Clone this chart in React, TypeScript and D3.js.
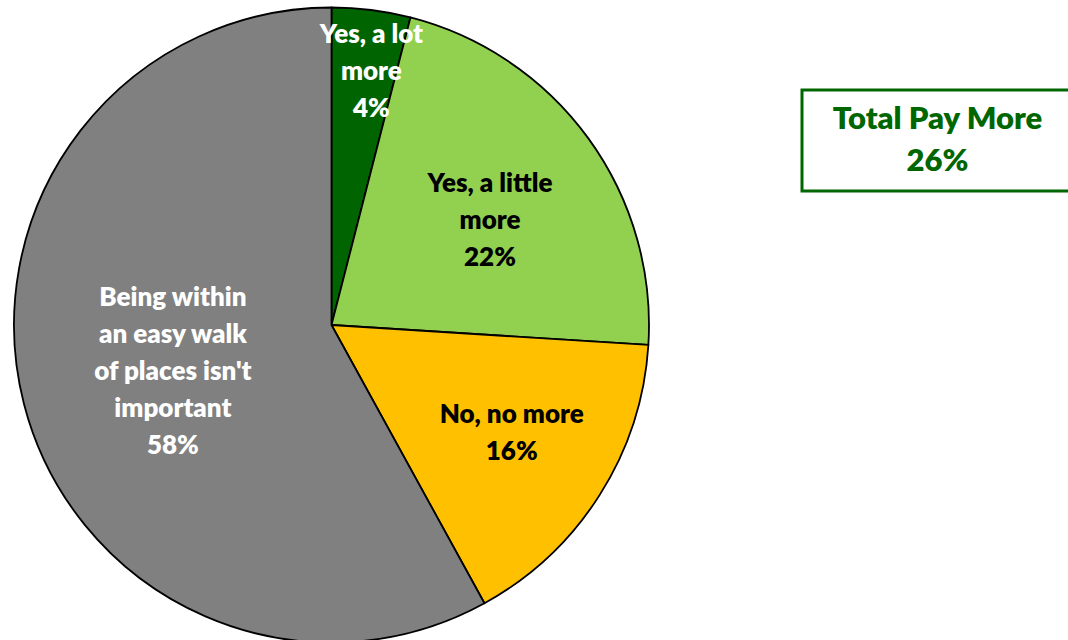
import React from "react";
import * as d3 from "d3";

const categories = ["Yes, a lot more", "Yes, a little more", "No, no more", "Being within an easy walk of places isn't important"];
const values = [4, 22, 16, 58];
const labelLines = [
  ["Yes, a lot", "more", "4%"],
  ["Yes, a little", "more", "22%"],
  ["No, no more", "16%"],
  ["Being within", "an easy walk", "of places isn't", "important", "58%"],
];
const colors = ["#006400", "#92D050", "#FFC000", "#808080"];
const labelColors = ["#FFFFFF", "#000000", "#000000", "#FFFFFF"];
const labelRadiusFrac = [0.81, 0.6, 0.66, 0.52];
const labelAngleShift = [0.03, 0.04, -0.03, -0.03];
const totalTitle = "Total Pay More";
const totalValue = "26%";

const W = 1068;
const H = 640;
const cx = 331.5;
const cy = 325;
const R = 317.5;
const FONT = "Lato, 'Open Sans', sans-serif";

export default function App() {
  const pie = d3.pie<number>().sort(null).value((d) => d)(values);
  const arc = d3.arc<d3.PieArcDatum<number>>().innerRadius(0).outerRadius(R);
  const lineH = 37;
  return (
    <svg width={W} height={H} style={{ position: "absolute", left: 0, top: 0 }} fontFamily={FONT}>
      <rect width={W} height={H} fill="#fff" />
      <g transform={`translate(${cx},${cy})`}>
        {pie.map((p, i) => (
          <path key={categories[i]} d={arc(p) || ""} fill={colors[i]} stroke="#000" strokeWidth={1.8} strokeLinejoin="round" />
        ))}
        {pie.map((p, i) => {
          const a = (p.startAngle + p.endAngle) / 2 + labelAngleShift[i];
          const r = R * labelRadiusFrac[i];
          const x = Math.sin(a) * r;
          const y = -Math.cos(a) * r;
          const lines = labelLines[i];
          const y0 = y - ((lines.length - 1) * lineH) / 2;
          return (
            <text key={"l" + i} x={x} textAnchor="middle" fontSize={26} fontWeight={800} fill={labelColors[i]}>
              {lines.map((ln, j) => (
                <tspan key={j} x={x} y={y0 + j * lineH} dy="0.36em">
                  {ln}
                </tspan>
              ))}
            </text>
          );
        })}
      </g>
      <rect x={802} y={90} width={280} height={101} fill="#fff" stroke="#006600" strokeWidth={3} />
      <text x={937.5} y={118} textAnchor="middle" fontSize={31} fontWeight={800} fill="#006600" dy="0.36em">
        {totalTitle}
      </text>
      <text x={937.5} y={160} textAnchor="middle" fontSize={31} fontWeight={800} fill="#006600" dy="0.36em">
        {totalValue}
      </text>
    </svg>
  );
}
